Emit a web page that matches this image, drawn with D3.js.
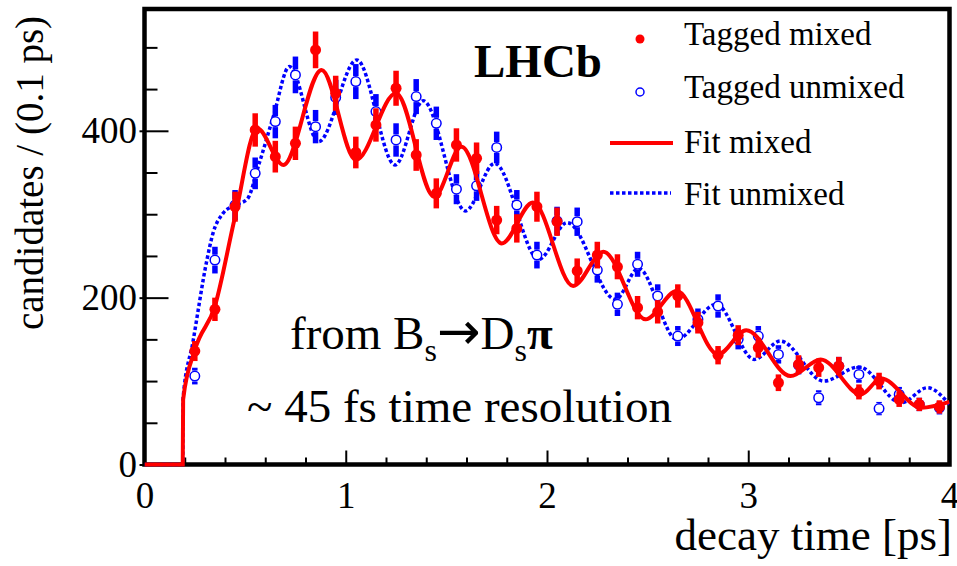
<!DOCTYPE html>
<html>
<head>
<meta charset="utf-8">
<script src="https://cdn.jsdelivr.net/npm/d3@7"></script>
<style>
  body { margin: 0; background: #fff; }
  svg text { font-family: "Liberation Serif", "Times New Roman", serif; fill: #000; }
</style>
</head>
<body>
<div id="chart"></div>
<script>
// bin centres (0.1 ps bins)
const binCentres = [0.25, 0.35, 0.45, 0.55, 0.65, 0.75, 0.85, 0.95, 1.05, 1.15,
  1.25, 1.35, 1.45, 1.55, 1.65, 1.75, 1.85, 1.95, 2.05, 2.15,
  2.25, 2.35, 2.45, 2.55, 2.65, 2.75, 2.85, 2.95, 3.05, 3.15,
  3.25, 3.35, 3.45, 3.55, 3.65, 3.75, 3.85, 3.95];

const mixedCounts = [136, 186, 309, 401, 369, 385, 497, 445, 374, 407,
  451, 371, 325, 383, 367, 293, 283, 309, 291, 232,
  251, 237, 188, 183, 202, 170, 131, 155, 140, 98,
  120, 116, 118, 87, 100, 78, 72, 69];
const mixedErrors = [12, 14, 18, 20, 19, 20, 22, 21, 19, 20,
  21, 19, 18, 20, 19, 17, 17, 18, 17, 15,
  16, 15, 14, 14, 14, 13, 11, 12, 12, 10,
  11, 11, 11, 9, 10, 9, 8, 8];

const unmixedCounts = [106, 245, 311, 349, 411, 467, 405, 440, 459, 423,
  389, 441, 409, 330, 334, 380, 311, 251, 292, 291,
  233, 192, 240, 202, 154, 174, 190, 150, 154, 132,
  119, 80, 118, 108, 67, 84, 72, 68];
const unmixedErrors = [10, 16, 18, 19, 20, 22, 20, 21, 21, 21,
  20, 21, 20, 18, 18, 19, 18, 16, 17, 17,
  15, 14, 15, 14, 12, 13, 14, 12, 12, 11,
  11, 9, 11, 10, 8, 9, 8, 8];

const fitMixedT = [0, 0.19, 0.192, 0.25, 0.35, 0.45, 0.56, 0.69, 0.88, 1.05,
  1.25, 1.44, 1.575, 1.775, 1.93, 2.13, 2.28, 2.49, 2.645, 2.85,
  2.99, 3.21, 3.36, 3.56, 3.66, 3.86, 4.0];
const fitMixedV = [0, 0, 78, 137, 190, 297, 403, 359, 473, 365,
  445, 321, 381, 265, 314, 214, 255, 174, 208, 132,
  161, 106, 126, 84, 103, 68, 75];

const fitUnmixedT = [0, 0.19, 0.192, 0.24, 0.31, 0.34, 0.39, 0.45, 0.51, 0.57,
  0.64, 0.72, 0.865, 1.055, 1.245, 1.385, 1.595, 1.74, 1.96, 2.10,
  2.34, 2.455, 2.645, 2.84, 3.03, 3.16, 3.375, 3.55, 3.76, 3.89, 4.0];
const fitUnmixedV = [0, 0, 80, 146, 245, 277, 301, 311, 318, 361,
  417, 477, 387, 485, 359, 436, 304, 361, 246, 290,
  198, 235, 150, 192, 126, 148, 100, 117, 74, 92, 72];

const xMajor = [0, 1, 2, 3, 4];
const yMajor = [0, 200, 400];

const legendLabels = ["Tagged mixed", "Tagged unmixed", "Fit mixed", "Fit unmixed"];

const RED = "#ff0000";
const BLUE = "#0000ff";

const plotChart = () => {
  const width = 957;
  const height = 566;
  const frame = { left: 144.5, right: 949.5, top: 9, bottom: 464.5 };

  const svg = d3.select("#chart")
    .append("svg")
    .attr("width", width)
    .attr("height", height);

  const x = d3.scaleLinear().domain([0, 4]).range([frame.left, frame.right]);
  const y = d3.scaleLinear().domain([0, 546]).range([frame.bottom, frame.top]);

  // clip a little beyond the frame so the fit lying on the axis stays visible
  svg.append("clipPath").attr("id", "clip")
    .append("rect")
    .attr("x", frame.left).attr("y", frame.top)
    .attr("width", frame.right - frame.left)
    .attr("height", frame.bottom - frame.top + 3);

  // axes (ticks point inwards)
  const xMinor = d3.range(0, 4.01, 0.2).filter(v => Math.abs(v - Math.round(v)) > 1e-6);
  const yMinor = d3.range(0, 546, 50).filter(v => v % 200 !== 0);

  svg.append("g")
    .attr("transform", `translate(0,${frame.bottom})`)
    .call(d3.axisBottom(x).tickValues(xMinor).tickSize(-7).tickFormat(""))
    .call(g => g.select(".domain").remove());

  svg.append("g")
    .attr("transform", `translate(0,${frame.bottom})`)
    .call(d3.axisBottom(x).tickValues(xMajor).tickSize(-14).tickPadding(17).tickFormat(d3.format("d")))
    .call(g => g.select(".domain").remove())
    .call(g => g.selectAll("text").attr("font-size", 37).attr("font-family", null));

  svg.append("g")
    .attr("transform", `translate(${frame.left},0)`)
    .call(d3.axisLeft(y).tickValues(yMinor).tickSize(-13).tickFormat(""))
    .call(g => g.select(".domain").remove());

  svg.append("g")
    .attr("transform", `translate(${frame.left},0)`)
    .call(d3.axisLeft(y).tickValues(yMajor).tickSize(-24).tickPadding(7.5))
    .call(g => g.select(".domain").remove())
    .call(g => g.selectAll(".tick line").attr("x1", -5))
    .call(g => g.selectAll("text").attr("font-size", 37).attr("font-family", null));

  svg.selectAll(".tick line").attr("stroke", "#000").attr("stroke-width", 2);

  // frame
  svg.append("rect")
    .attr("x", frame.left).attr("y", frame.top)
    .attr("width", frame.right - frame.left)
    .attr("height", frame.bottom - frame.top)
    .attr("fill", "none")
    .attr("stroke", "#000")
    .attr("stroke-width", 4.5);

  const plot = svg.append("g").attr("clip-path", "url(#clip)");

  const line = d3.line()
    .x(d => x(d[0]))
    .y(d => y(d[1]))
    .curve(d3.curveMonotoneX);

  // fit unmixed (dotted blue)
  plot.append("path")
    .datum(d3.zip(fitUnmixedT, fitUnmixedV))
    .attr("fill", "none")
    .attr("stroke", BLUE)
    .attr("stroke-width", 3.5)
    .attr("stroke-dasharray", "3.5,2.5")
    .attr("d", line);

  // tagged unmixed: open circles, bars stop at the marker
  const unmixed = d3.zip(binCentres, unmixedCounts, unmixedErrors);
  const r = 5.5;
  const ug = plot.append("g");
  ug.selectAll("rect.up")
    .data(unmixed)
    .join("rect")
    .attr("x", d => x(d[0]) - 2.75)
    .attr("y", d => y(d[1] + d[2]))
    .attr("width", 5.5)
    .attr("height", d => Math.max(0, y(d[1]) - y(d[1] + d[2]) - r))
    .attr("fill", BLUE);
  ug.selectAll("rect.down")
    .data(unmixed)
    .join("rect")
    .attr("x", d => x(d[0]) - 2.75)
    .attr("y", d => y(d[1]) + r)
    .attr("width", 5.5)
    .attr("height", d => Math.max(0, y(d[1] - d[2]) - y(d[1]) - r))
    .attr("fill", BLUE);
  ug.selectAll("circle")
    .data(unmixed)
    .join("circle")
    .attr("cx", d => x(d[0]))
    .attr("cy", d => y(d[1]))
    .attr("r", r - 0.75)
    .attr("fill", "#fff")
    .attr("stroke", BLUE)
    .attr("stroke-width", 1.5);

  // fit mixed (solid red)
  plot.append("path")
    .datum(d3.zip(fitMixedT, fitMixedV))
    .attr("fill", "none")
    .attr("stroke", RED)
    .attr("stroke-width", 4)
    .attr("d", line);

  // tagged mixed: filled dots
  const mixed = d3.zip(binCentres, mixedCounts, mixedErrors);
  const mg = plot.append("g");
  mg.selectAll("rect")
    .data(mixed)
    .join("rect")
    .attr("x", d => x(d[0]) - 2.75)
    .attr("y", d => y(d[1] + d[2]))
    .attr("width", 5.5)
    .attr("height", d => y(d[1] - d[2]) - y(d[1] + d[2]))
    .attr("fill", RED);
  mg.selectAll("circle")
    .data(mixed)
    .join("circle")
    .attr("cx", d => x(d[0]))
    .attr("cy", d => y(d[1]))
    .attr("r", 5.5)
    .attr("fill", RED);

  // axis titles
  svg.append("text")
    .attr("transform", "translate(43,173) rotate(-90)")
    .attr("text-anchor", "middle")
    .attr("font-size", 39)
    .text("candidates / (0.1 ps)");

  svg.append("text")
    .attr("x", 952).attr("y", 550)
    .attr("text-anchor", "end")
    .attr("font-size", 45)
    .text("decay time [ps]");

  // LHCb label
  svg.append("text")
    .attr("x", 474).attr("y", 77)
    .attr("font-size", 47)
    .attr("font-weight", "bold")
    .text("LHCb");

  // legend
  const legendY = [45, 98, 153, 205];
  const leg = svg.append("g");
  leg.selectAll("text")
    .data(legendLabels)
    .join("text")
    .attr("x", 684)
    .attr("y", (d, i) => legendY[i])
    .attr("font-size", 33)
    .text(d => d);
  leg.append("circle").attr("cx", 640).attr("cy", 39).attr("r", 4.5).attr("fill", RED);
  leg.append("circle").attr("cx", 640).attr("cy", 92).attr("r", 4)
    .attr("fill", "none").attr("stroke", BLUE).attr("stroke-width", 1.5);
  leg.append("line").attr("x1", 610).attr("x2", 673).attr("y1", 143).attr("y2", 143)
    .attr("stroke", RED).attr("stroke-width", 4);
  leg.append("line").attr("x1", 610).attr("x2", 671).attr("y1", 193).attr("y2", 193)
    .attr("stroke", BLUE).attr("stroke-width", 3.5).attr("stroke-dasharray", "3.5,2.5");

  // annotation
  const ann = svg.append("g").attr("font-size", 47);
  const t1 = ann.append("text").attr("x", 290).attr("y", 349);
  t1.append("tspan").text("from B");
  t1.append("tspan").attr("font-size", 32).attr("dy", 12).text("s");
  t1.append("tspan").attr("dy", -12).attr("font-family", "DejaVu Sans").attr("font-size", 52).text("\u2192");
  t1.append("tspan").text("D");
  t1.append("tspan").attr("font-size", 32).attr("dy", 12).text("s");
  t1.append("tspan").attr("dy", -12).attr("font-weight", "bold").text("\u03c0");
  ann.append("text").attr("x", 247).attr("y", 422).text("~ 45 fs time resolution");
};

plotChart();
</script>
</body>
</html>
